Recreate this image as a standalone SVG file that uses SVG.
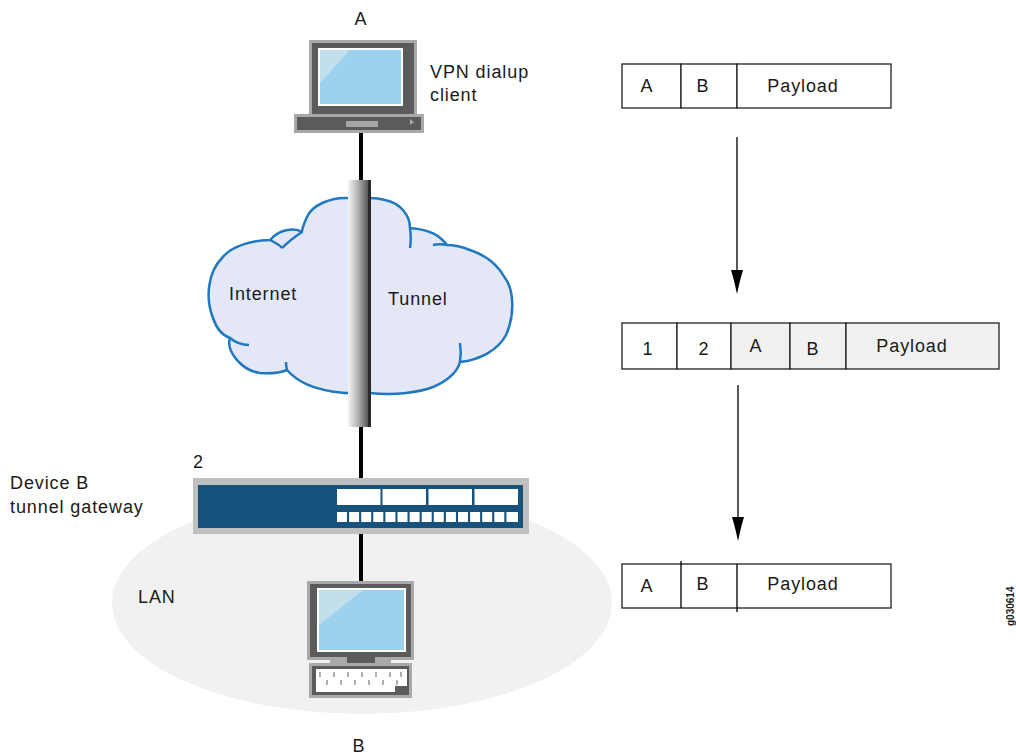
<svg xmlns="http://www.w3.org/2000/svg" width="1016" height="756" viewBox="0 0 1016 756">
  <style>
    text { font-family: "Liberation Sans", Arial, sans-serif; font-size: 18px; letter-spacing: 0.9px; fill: #1a1a1a; }
    .mid { text-anchor: middle; }
    .wire { stroke: #000; stroke-width: 4; fill: none; }
    .cell { fill: #fff; stroke: #222; stroke-width: 1.3; }
    .cellg { fill: #f1f1f1; stroke: #222; stroke-width: 1.3; }
    .flow { stroke: #000; stroke-width: 1.3; fill: none; }
    .bezel-out { fill: #a9a9a9; }
    .bezel { fill: #5b5b5b; }
    .screen { fill: #9dd2ee; }
    .glare { fill: #c2e0ec; }
    .port { fill: #fff; }
    .fold { fill: none; stroke: #1f78c1; stroke-width: 2.5; }
  </style>
  <defs>
    <linearGradient id="tubeGrad" x1="0" y1="0" x2="1" y2="0">
      <stop offset="0" stop-color="#f6f6f6"/>
      <stop offset="0.45" stop-color="#b0b0b0"/>
      <stop offset="0.85" stop-color="#5c5c5c"/>
      <stop offset="1" stop-color="#2a2a2a"/>
    </linearGradient>
  </defs>

  <!-- LAN area -->
  <g id="lan">
    <ellipse cx="362" cy="603" rx="250" ry="111" fill="#f1f1f1"/>
    <text x="138" y="603">LAN</text>
  </g>

  <!-- connectors -->
  <g id="connectors">
    <line class="wire" x1="361" y1="132" x2="361" y2="182"/>
    <line class="wire" x1="361" y1="425" x2="361" y2="479"/>
    <line class="wire" x1="361" y1="533" x2="361" y2="583"/>
    <line class="flow" x1="737" y1="137" x2="737" y2="270"/>
    <path d="M731,270 L743,270 L741,277 L739,285 L737,294 L735,285 L733,277 Z" fill="#000"/>
    <line class="flow" x1="738" y1="385" x2="738" y2="517"/>
    <path d="M732,517 L744,517 L742,524 L740,532 L738,541 L736,532 L734,524 Z" fill="#000"/>
  </g>

  <!-- Internet cloud -->
  <g id="cloud">
    <path d="M345,198 C330,198 312,205 307,217 C304,224 302,228 302,232
             C296,228 280,228 270,240
             C255,240 232,245 222,258 C208,272 205,298 213,318 C217,330 224,336 230,338
             C226,350 240,370 260,373 C272,374 282,372 287,370
             C296,380 310,390 345,393 L370,393
             C395,396 420,392 433,387 C450,380 458,370 460,362
             C480,360 498,350 506,335 C515,315 514,290 505,278 C498,265 485,255 470,250 C460,246 452,245 447,245
             C440,236 432,230 410,228
             C410,215 400,203 385,200 C378,198 374,198 370,198 Z"
          fill="#e4e8f6" stroke="#1f78c1" stroke-width="2.5" stroke-linejoin="round"/>
    <!-- inner bump folds -->
    <path class="fold" d="M302,232 C296,236 290,240 282,248"/>
    <path class="fold" d="M270,240 C276,243 280,245 282,248"/>
    <path class="fold" d="M230,338 C236,343 242,345 249,345"/>
    <path class="fold" d="M287,370 C286,366 286,364 286,362"/>
    <path class="fold" d="M410,228 C411,235 411,242 410,248"/>
    <path class="fold" d="M447,245 C442,244 438,244 433,245"/>
    <path class="fold" d="M460,362 C461,356 461,350 460,343"/>
    <text x="229" y="300">Internet</text>
    <text x="388" y="305">Tunnel</text>
  </g>

  <!-- VPN tunnel tube -->
  <g id="tunnel">
    <rect x="348" y="180" width="23" height="247" fill="url(#tubeGrad)"/>
    <rect x="368" y="180" width="3" height="247" fill="#2a2a2a"/>
  </g>

  <!-- Host A: dialup laptop -->
  <g id="host-a">
    <text class="mid" x="361" y="25">A</text>
    <rect class="bezel-out" x="309" y="40" width="108" height="75"/>
    <rect class="bezel" x="312" y="43" width="102" height="72"/>
    <rect x="318" y="48" width="85" height="58" fill="#fff"/>
    <rect class="screen" x="320" y="50" width="81" height="54"/>
    <path class="glare" d="M320,50 L350,50 L320,83 Z"/>
    <rect class="bezel-out" x="294" y="114" width="130" height="19"/>
    <rect class="bezel" x="297" y="117" width="124" height="13"/>
    <rect x="346" y="121" width="32" height="6" fill="#a6a6a6"/>
    <path d="M410,119 L414,122 L410,125 Z" fill="#a6a6a6"/>
    <text x="430" y="78">VPN dialup</text>
    <text x="430" y="101">client</text>
  </g>

  <!-- Device B: tunnel gateway -->
  <g id="gateway">
    <text x="193" y="468">2</text>
    <text x="10" y="489">Device B</text>
    <text x="10" y="513">tunnel gateway</text>
    <rect x="193" y="478" width="336" height="56" fill="#c0c0c0"/>
    <rect x="198" y="485" width="325" height="43" fill="#17527d"/>
    <g class="port">
      <rect x="337" y="489" width="43.5" height="16"/>
      <rect x="382.5" y="489" width="43.5" height="16"/>
      <rect x="428.5" y="489" width="43.5" height="16"/>
      <rect x="474.5" y="489" width="43.5" height="16"/>
      <rect x="337" y="512" width="10" height="10"/>
      <rect x="349.1" y="512" width="10" height="10"/>
      <rect x="361.2" y="512" width="10" height="10"/>
      <rect x="373.3" y="512" width="10" height="10"/>
      <rect x="385.4" y="512" width="10" height="10"/>
      <rect x="397.5" y="512" width="10" height="10"/>
      <rect x="409.6" y="512" width="10" height="10"/>
      <rect x="421.7" y="512" width="10" height="10"/>
      <rect x="433.8" y="512" width="10" height="10"/>
      <rect x="445.9" y="512" width="10" height="10"/>
      <rect x="458" y="512" width="10" height="10"/>
      <rect x="470.1" y="512" width="10" height="10"/>
      <rect x="482.2" y="512" width="10" height="10"/>
      <rect x="494.3" y="512" width="10" height="10"/>
      <rect x="506.4" y="512" width="11.6" height="10"/>
    </g>
  </g>

  <!-- Host B: LAN workstation -->
  <g id="host-b">
    <rect class="bezel-out" x="307" y="581" width="107" height="79"/>
    <rect class="bezel" x="310" y="584" width="101" height="73"/>
    <rect x="317" y="588" width="89" height="64" fill="#fff"/>
    <rect class="screen" x="319" y="590" width="85" height="60"/>
    <path class="glare" d="M319,590 L363,590 L319,625 Z"/>
    <rect class="bezel-out" x="330" y="659" width="61" height="4"/>
    <rect class="bezel" x="347" y="657" width="28" height="8"/>
    <rect class="bezel-out" x="309" y="663" width="103" height="35"/>
    <rect class="bezel" x="312" y="666" width="97" height="29"/>
    <path d="M316,669 L407,669 L407,686 L395,686 L395,692 L316,692 Z" fill="#fff"/>
    <g stroke="#7a7a7a" stroke-width="1.2">
      <line x1="320" y1="672" x2="320" y2="677"/>
      <line x1="334" y1="672" x2="334" y2="677"/>
      <line x1="348" y1="672" x2="348" y2="677"/>
      <line x1="362" y1="672" x2="362" y2="677"/>
      <line x1="376" y1="672" x2="376" y2="677"/>
      <line x1="390" y1="672" x2="390" y2="677"/>
      <line x1="401" y1="672" x2="401" y2="677"/>
      <line x1="327" y1="680" x2="327" y2="685"/>
      <line x1="341" y1="680" x2="341" y2="685"/>
      <line x1="355" y1="680" x2="355" y2="685"/>
      <line x1="369" y1="680" x2="369" y2="685"/>
      <line x1="383" y1="680" x2="383" y2="685"/>
      <line x1="397" y1="680" x2="397" y2="685"/>
    </g>
    <text class="mid" x="359" y="752">B</text>
  </g>

  <!-- Packet: original -->
  <g id="packet-original">
    <rect class="cell" x="622" y="64" width="59" height="44"/>
    <rect class="cell" x="681" y="64" width="56" height="44"/>
    <rect class="cell" x="737" y="64" width="154" height="44"/>
    <text class="mid" x="647" y="92">A</text>
    <text class="mid" x="703" y="92">B</text>
    <text class="mid" x="803" y="92">Payload</text>
  </g>

  <!-- Packet: encapsulated -->
  <g id="packet-encapsulated">
    <rect class="cell" x="622" y="323" width="55" height="46"/>
    <rect class="cell" x="677" y="323" width="54" height="46"/>
    <rect class="cellg" x="731" y="323" width="59" height="46"/>
    <rect class="cellg" x="790" y="323" width="56" height="46"/>
    <rect class="cellg" x="846" y="323" width="153" height="46"/>
    <text class="mid" x="648" y="355">1</text>
    <text class="mid" x="704" y="355">2</text>
    <text class="mid" x="756" y="352">A</text>
    <text class="mid" x="813" y="355">B</text>
    <text class="mid" x="912" y="352">Payload</text>
  </g>

  <!-- Packet: decapsulated -->
  <g id="packet-decapsulated">
    <rect class="cell" x="622" y="564" width="269" height="44"/>
    <line class="flow" x1="681" y1="561" x2="681" y2="608"/>
    <line class="flow" x1="737" y1="564" x2="737" y2="612"/>
    <text class="mid" x="647" y="592">A</text>
    <text class="mid" x="703" y="590">B</text>
    <text class="mid" x="803" y="590">Payload</text>
  </g>

  <text x="0" y="0" transform="translate(1014,626) rotate(-90)" style="font-size:10px;letter-spacing:0;font-weight:bold">g030614</text>
</svg>
